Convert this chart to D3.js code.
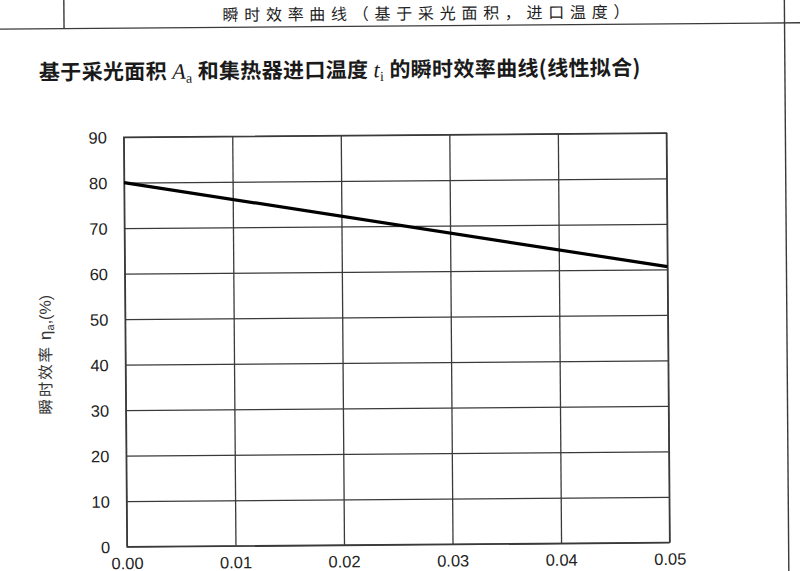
<!DOCTYPE html>
<html>
<head>
<meta charset="utf-8">
<script src="https://cdn.jsdelivr.net/npm/d3@7"></script>
<style>
  html, body { margin: 0; padding: 0; background: #fff; }
  svg { display: block; }
</style>
</head>
<body>
<svg id="chart" width="800" height="571"></svg>
<script>
// ---- data ----
const headerText = "瞬时效率曲线（基于采光面积，进口温度）";
const xTicks = [0, 0.01, 0.02, 0.03, 0.04, 0.05];
const xTickLabels = ["0.00", "0.01", "0.02", "0.03", "0.04", "0.05"];
const yTicks = [0, 10, 20, 30, 40, 50, 60, 70, 80, 90];
const yTickLabels = ["0", "10", "20", "30", "40", "50", "60", "70", "80", "90"];
const effX = [0, 0.05];        // (ti - ta)/G
const effY = [80, 60.6];       // instantaneous efficiency, %

// ---- layout ----
const W = 800, H = 571;
const plot = { left: 125.3, right: 668, top: 135, bottom: 544.6 };
const cx = (plot.left + plot.right) / 2, cy = (plot.top + plot.bottom) / 2;

const svg = d3.select("#chart");
svg.append("rect").attr("width", W).attr("height", H).attr("fill", "#fff");

// slight scan tilt
const root = svg.append("g").attr("transform", `rotate(-0.45, ${cx}, ${cy})`);

const lineCol = "#3a3a3a";
// header frame
root.append("line").attr("x1", -10).attr("x2", W + 10).attr("y1", 26).attr("y2", 26)
  .attr("stroke", lineCol).attr("stroke-width", 1.4);
root.append("line").attr("x1", 66.5).attr("x2", 66.5).attr("y1", -10).attr("y2", 26)
  .attr("stroke", lineCol).attr("stroke-width", 1.4);
root.append("line").attr("x1", 787).attr("x2", 787).attr("y1", -10).attr("y2", H + 10)
  .attr("stroke", lineCol).attr("stroke-width", 1.4);

root.append("text")
  .attr("x", 225).attr("y", 19.5)
  .attr("textLength", 407).attr("lengthAdjust", "spacing")
  .attr("font-family", "'Noto Sans CJK SC', sans-serif")
  .attr("font-size", 16).attr("fill", "#222")
  .text(headerText);

// chart title
const title = root.append("text")
  .attr("x", 41).attr("y", 77)
  .attr("font-family", "'Noto Sans CJK SC', sans-serif")
  .attr("font-size", 21).attr("letter-spacing", 0.35)
  .attr("font-weight", "bold").attr("fill", "#1a1a1a");
title.append("tspan").text("基于采光面积 ");
title.append("tspan").attr("font-family", "'Liberation Serif', serif").attr("font-style", "italic")
  .attr("font-weight", "normal").attr("font-size", 22).text("A");
title.append("tspan").attr("font-family", "'Liberation Serif', serif").attr("font-weight", "normal")
  .attr("font-size", 14).attr("dy", 4).text("a");
title.append("tspan").attr("dy", -4).text(" 和集热器进口温度 ");
title.append("tspan").attr("font-family", "'Liberation Serif', serif").attr("font-style", "italic")
  .attr("font-weight", "normal").attr("font-size", 22).text("t");
title.append("tspan").attr("font-family", "'Liberation Serif', serif").attr("font-weight", "normal")
  .attr("font-size", 14).attr("dy", 4).text("i");
title.append("tspan").attr("dy", -4).text(" 的瞬时效率曲线(线性拟合)");

// scales
const x = d3.scaleLinear().domain([0, 0.05]).range([plot.left, plot.right]);
const y = d3.scaleLinear().domain([0, 90]).range([plot.bottom, plot.top]);

// grid via axes
const gx = root.append("g").attr("transform", `translate(0,${plot.bottom})`)
  .call(d3.axisBottom(x).tickValues(xTicks).tickSize(-(plot.bottom - plot.top)).tickFormat((d, i) => xTickLabels[i]));
const gy = root.append("g").attr("transform", `translate(${plot.left},0)`)
  .call(d3.axisLeft(y).tickValues(yTicks).tickSize(-(plot.right - plot.left)).tickFormat((d, i) => yTickLabels[i]));

[gx, gy].forEach(g => {
  g.select(".domain").remove();
  g.selectAll(".tick line").attr("stroke", lineCol).attr("stroke-width", 1.3);
  g.selectAll(".tick text").attr("font-family", "'Liberation Sans', Arial, sans-serif")
    .attr("font-size", 16.5).attr("fill", "#222");
});
gx.selectAll(".tick text").attr("y", 567 - plot.bottom).attr("dy", 0);
gy.selectAll(".tick text").attr("x", -(plot.left - 108.5)).attr("dy", "0.35em");

// plot frame
root.append("rect")
  .attr("x", plot.left).attr("y", plot.top)
  .attr("width", plot.right - plot.left).attr("height", plot.bottom - plot.top)
  .attr("fill", "none").attr("stroke", lineCol).attr("stroke-width", 1.3);

// efficiency line
const pts = effX.map((v, i) => [v, effY[i]]);
root.append("path").datum(pts)
  .attr("d", d3.line().x(d => x(d[0])).y(d => y(d[1])))
  .attr("fill", "none").attr("stroke", "#000").attr("stroke-width", 3.2);

// y-axis label
const yl = root.append("text")
  .attr("transform", `translate(51, 352) rotate(-90)`)
  .attr("text-anchor", "middle")
  .attr("font-size", 15.5).attr("fill", "#333");
yl.append("tspan").attr("font-family", "'Noto Sans CJK SC', sans-serif").attr("letter-spacing", 1.8).text("瞬时效率 ");
yl.append("tspan").attr("font-family", "'Liberation Sans', Arial, sans-serif").attr("font-size", 17).text("η");
yl.append("tspan").attr("font-family", "'Liberation Sans', Arial, sans-serif").attr("font-size", 11).attr("dy", 3).text("a");
yl.append("tspan").attr("font-family", "'Liberation Sans', Arial, sans-serif").attr("font-size", 16).attr("dy", -3).text(",(%)");
</script>
</body>
</html>
